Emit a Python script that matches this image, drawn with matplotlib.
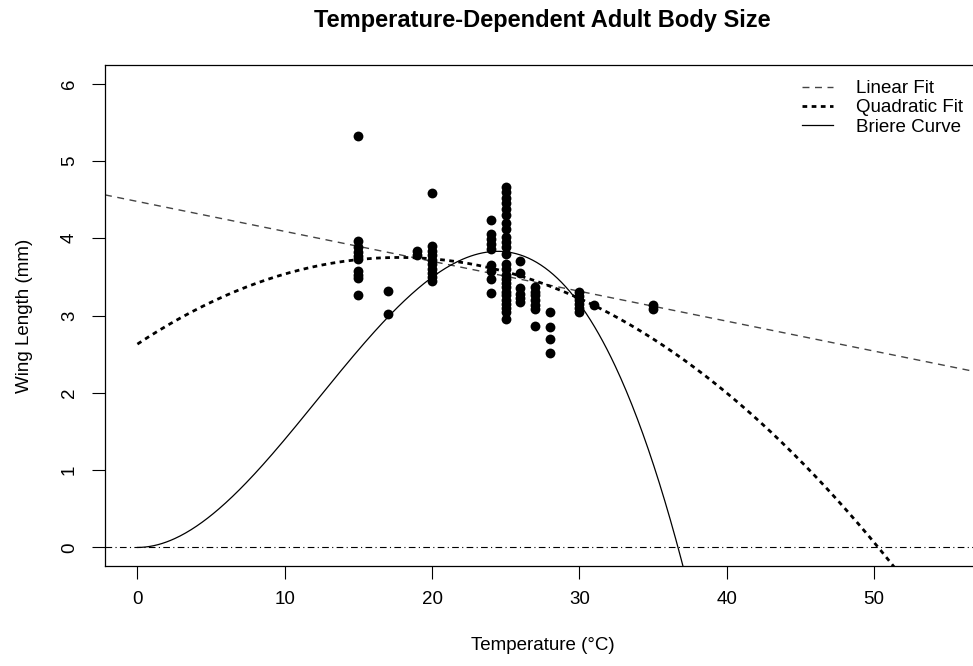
import matplotlib
matplotlib.use('Agg')
import matplotlib.pyplot as plt
import numpy as np

plt.rcParams['font.family'] = ['Liberation Sans', 'DejaVu Sans']

# wing length (mm) measured at each rearing temperature (C)
wing_by_temp = {
    15: [5.32, 3.97, 3.88, 3.82, 3.77, 3.73, 3.57, 3.52, 3.48, 3.26],
    17: [3.32, 3.02],
    19: [3.83, 3.78],
    20: [4.58, 3.90, 3.84, 3.78, 3.72, 3.66, 3.60, 3.55, 3.50, 3.44],
    24: [4.23, 4.05, 3.99, 3.93, 3.86, 3.65, 3.57, 3.47, 3.29],
    25: [4.66, 4.60, 4.52, 4.45, 4.38, 4.30, 4.20, 4.12, 4.02, 3.95, 3.88, 3.80,
         3.66, 3.60, 3.53, 3.47, 3.42, 3.37, 3.31, 3.26, 3.20, 3.15, 3.10, 3.04, 2.96],
    26: [3.70, 3.55, 3.35, 3.28, 3.22, 3.17],
    27: [3.37, 3.31, 3.27, 3.20, 3.14, 3.08, 2.87],
    28: [3.05, 2.85, 2.70, 2.52],
    30: [3.30, 3.25, 3.20, 3.15, 3.10, 3.05],
    31: [3.13],
    35: [3.13, 3.09],
}

# fitted model coefficients
linear_coef = [4.475, -0.0387]            # intercept, slope
quad_coef = [2.63, 0.1261, -0.003547]      # a + b*T + c*T^2
briere_c = 0.000523
briere_tmax = 36.7

x_ticks = [0, 10, 20, 30, 40, 50]
y_ticks = [0, 1, 2, 3, 4, 5, 6]

W, H = 973, 666
FS = 13.5
fig = plt.figure(figsize=(W / 100, H / 100), dpi=100)
ax = fig.add_axes([105 / W, (H - 566) / H, 875 / W, 501 / H])

temps = []
wings = []
for t, vals in wing_by_temp.items():
    temps += [t] * len(vals)
    wings += vals
ax.scatter(temps, wings, s=50, color='black', zorder=3, linewidths=0)

# linear fit (abline)
ax.axline((0, linear_coef[0]), slope=linear_coef[1], color='#444444',
          lw=1.0, dashes=(5, 4), label='Linear Fit')

# quadratic fit
tq = np.linspace(0, 55, 300)
yq = quad_coef[0] + quad_coef[1] * tq + quad_coef[2] * tq ** 2
ax.plot(tq, yq, color='black', lw=2.0, dashes=(1.7, 1.6), label='Quadratic Fit')

# briere-type curve
tb = np.linspace(0, 37.3, 400)
yb = briere_c * tb ** 2 * (briere_tmax - tb)
ax.plot(tb, yb, color='black', lw=0.9, label='Briere Curve')

ax.axhline(0, color='black', lw=0.8, dashes=(6, 3, 1, 3))

ax.set_xlim(-2.2, 57.2)
ax.set_ylim(-0.24, 6.24)
ax.set_xticks(x_ticks)
ax.set_yticks(y_ticks)
ax.tick_params(length=9.4, width=0.8, labelsize=FS)
ax.tick_params(axis='x', pad=8.5)
ax.tick_params(axis='y', pad=10, labelrotation=90)
for lab in ax.get_yticklabels():
    lab.set_va('center')
for sp in ax.spines.values():
    sp.set_linewidth(0.9)

ax.set_xlabel('Temperature (°C)', fontsize=FS, va='center')
ax.xaxis.set_label_coords(0.5, -80 / 501)
ax.set_ylabel('Wing Length (mm)', fontsize=FS, va='center')
ax.yaxis.set_label_coords(-80 / 875, 0.5)

fig.text(542.5 / W, 1 - 21 / H, 'Temperature-Dependent Adult Body Size',
         ha='center', va='center', fontsize=17, fontweight='bold')

ax.legend(loc='upper left', bbox_to_anchor=(802 / W, 1 - 80 / H),
          bbox_transform=fig.transFigure, frameon=False, fontsize=FS,
          handlelength=1.65, handletextpad=1.25, labelspacing=0.12,
          borderpad=0, borderaxespad=0)

fig.savefig('out.png', dpi=100)
